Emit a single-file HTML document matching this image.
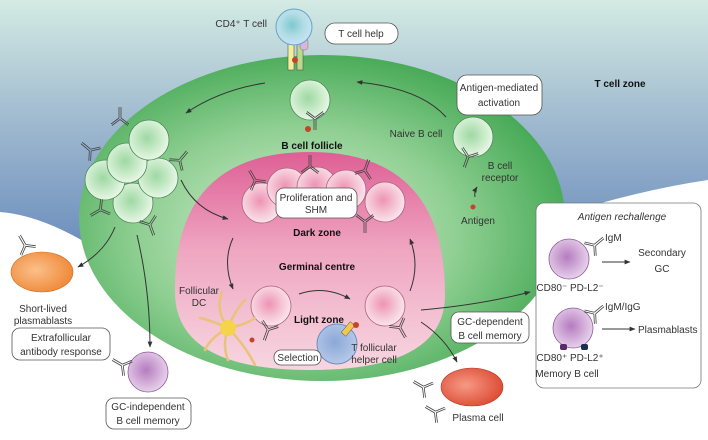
<!DOCTYPE html>
<html><head><meta charset="utf-8"><style>
html,body{margin:0;padding:0;background:#fff}
svg{display:block}
text{font-family:"Liberation Sans",sans-serif;font-size:10px;fill:#333}
.b{font-weight:bold;fill:#111}
</style></head><body>
<svg width="708" height="440" viewBox="0 0 708 440" xmlns="http://www.w3.org/2000/svg">
<defs>
<linearGradient id="sky" x1="0" y1="0" x2="0" y2="1"><stop offset="0" stop-color="#d3ebe3"/><stop offset="0.5" stop-color="#9fb9cf"/><stop offset="1" stop-color="#6d8fbd"/></linearGradient>
<radialGradient id="grn" cx="0.45" cy="0.55" r="0.6"><stop offset="0" stop-color="#d6eed4"/><stop offset="0.55" stop-color="#8fcf92"/><stop offset="1" stop-color="#3ea54f"/></radialGradient>
<linearGradient id="pnk" x1="0" y1="0" x2="0" y2="1"><stop offset="0" stop-color="#de5f95"/><stop offset="0.45" stop-color="#efa6c1"/><stop offset="1" stop-color="#f7d6e0"/></linearGradient>
<radialGradient id="gc" cx="0.45" cy="0.45" r="0.55"><stop offset="0" stop-color="#9fd8a4"/><stop offset="0.6" stop-color="#c9ebc9"/><stop offset="1" stop-color="#e8f6e6"/></radialGradient>
<radialGradient id="pc" cx="0.45" cy="0.45" r="0.55"><stop offset="0" stop-color="#ee93b3"/><stop offset="0.6" stop-color="#f5c6d6"/><stop offset="1" stop-color="#fae4ea"/></radialGradient>
<radialGradient id="vc" cx="0.45" cy="0.45" r="0.55"><stop offset="0" stop-color="#b57cc0"/><stop offset="0.6" stop-color="#d3aed9"/><stop offset="1" stop-color="#e6d0ea"/></radialGradient>
<radialGradient id="bc" cx="0.45" cy="0.45" r="0.55"><stop offset="0" stop-color="#7fc8cf"/><stop offset="0.6" stop-color="#b3dde6"/><stop offset="1" stop-color="#c5e3f0"/></radialGradient>
<radialGradient id="bc2" cx="0.45" cy="0.45" r="0.55"><stop offset="0" stop-color="#8aa8d8"/><stop offset="1" stop-color="#b5c8e8"/></radialGradient>
<radialGradient id="oc" cx="0.4" cy="0.45" r="0.6"><stop offset="0" stop-color="#fbc08a"/><stop offset="1" stop-color="#ef8a3a"/></radialGradient>
<radialGradient id="rc" cx="0.4" cy="0.45" r="0.6"><stop offset="0" stop-color="#f59a85"/><stop offset="1" stop-color="#de4d36"/></radialGradient>
<marker id="ar" viewBox="0 0 10 10" refX="9" refY="5" markerWidth="6" markerHeight="6" orient="auto"><path d="M0,1 L10,5 L0,9 z" fill="#333"/></marker>
<g id="ab" stroke="#444" stroke-width="0.8" fill="none"><path d="M-1,0 L-1,-11 M1,0 L1,-11 M-1,0 L-9,6 M0,1.5 L-8,7.5 M1,0 L9,6 M0,1.5 L8,7.5"/></g>
</defs>
<rect width="708" height="440" fill="#fff"/>
<path d="M0,0 H708 V180 Q640,190 560,215 L90,245 Q40,215 0,212 Z" fill="url(#sky)"/>
<ellipse cx="322" cy="218" rx="243" ry="163" fill="url(#grn)"/>
<path d="M175,295 Q172,152 310,152 Q445,152 445,295 Q445,370 310,370 Q178,370 175,295Z" fill="url(#pnk)"/>
<rect x="536" y="203" width="165" height="185" rx="8" fill="#fff" stroke="#777" stroke-width="0.8"/>
<g stroke="#333" stroke-width="1" fill="none" marker-end="url(#ar)">
<path d="M265,83 Q220,90 186,113"/>
<path d="M446,117 Q420,88 357,82"/>
<path d="M181,180 Q195,210 228,219"/>
<path d="M233,238 Q222,262 233,289"/>
<path d="M299,294 Q325,285 350,299"/>
<path d="M410,291 Q420,265 410,239"/>
<path d="M115,227 Q105,252 78,267"/>
<path d="M137,235 Q150,290 150,347"/>
<path d="M421,310 Q480,305 530,292"/>
<path d="M421,322 Q445,338 457,362"/>
<path d="M475,197 Q474,192 477,187"/>
<path d="M602,262 H630"/><path d="M602,329 H635"/>
</g>
<rect x="288" y="42" width="6" height="28" fill="#f2ef9a" stroke="#555" stroke-width="0.6"/>
<rect x="297" y="42" width="6" height="28" fill="#b9d98d" stroke="#555" stroke-width="0.6"/>
<rect x="300" y="38" width="8" height="12" rx="3" fill="#d7b7d8" stroke="#777" stroke-width="0.5"/>
<circle cx="294" cy="27" r="18" fill="url(#bc)" stroke="#6aa3c6"/>
<circle cx="295" cy="60" r="3" fill="#c4432a"/>
<circle cx="310" cy="100" r="20" fill="url(#gc)" stroke="#4a8a55" stroke-width="0.8"/>
<use href="#ab" x="315" y="119" transform="rotate(180 315 119)"/>
<circle cx="308" cy="129" r="3" fill="#c4432a"/>
<circle cx="473" cy="137" r="20" fill="url(#gc)" stroke="#4a8a55" stroke-width="0.8"/>
<use href="#ab" x="468" y="157" transform="rotate(200 468 157)"/>
<circle cx="473" cy="207" r="2.5" fill="#c4432a"/>
<g fill="url(#gc)" stroke="#4a8a55" stroke-width="0.8">
<circle cx="133" cy="203" r="20"/><circle cx="158" cy="178" r="20"/><circle cx="105" cy="180" r="20"/><circle cx="127" cy="163" r="20"/><circle cx="149" cy="140" r="20"/>
</g>
<use href="#ab" x="120" y="118"/><use href="#ab" x="180" y="160" transform="rotate(40 180 160)"/><use href="#ab" x="100" y="210" transform="rotate(-120 100 210)"/><use href="#ab" x="150" y="225" transform="rotate(160 150 225)"/><use href="#ab" x="90" y="150" transform="rotate(-50 90 150)"/>
<g fill="url(#pc)" stroke="#b0607c" stroke-width="0.8">
<circle cx="262" cy="203" r="20"/><circle cx="287" cy="188" r="20"/><circle cx="317" cy="187" r="20"/><circle cx="346" cy="190" r="20"/><circle cx="385" cy="202" r="20"/>
<circle cx="271" cy="306" r="20"/><circle cx="385" cy="306" r="20"/>
</g>
<use href="#ab" x="255" y="180" transform="rotate(-30 255 180)"/><use href="#ab" x="310" y="166"/><use href="#ab" x="365" y="170" transform="rotate(20 365 170)"/><use href="#ab" x="365" y="222" transform="rotate(180 365 222)"/><use href="#ab" x="268" y="330" transform="rotate(200 268 330)"/><use href="#ab" x="400" y="328" transform="rotate(150 400 328)"/>
<g stroke="#e8c37a" stroke-width="2.5" fill="none" stroke-linecap="round">
<path d="M228,328 Q215,310 222,292 M228,328 Q210,320 200,318 M228,328 Q210,338 205,350 M228,328 Q222,345 228,360 M228,328 Q245,345 255,365 M228,328 Q245,325 255,318 M228,328 Q235,310 245,300"/>
</g>
<circle cx="228" cy="328" r="8" fill="#f5d34a"/>
<circle cx="252" cy="340" r="2.5" fill="#c4432a"/>
<circle cx="337" cy="344" r="20" fill="url(#bc2)" stroke="#6a8fc0"/>
<rect x="345" y="322" width="6" height="14" fill="#f2c94c" stroke="#555" stroke-width="0.5" transform="rotate(40 348 329)"/>
<circle cx="356" cy="325" r="3" fill="#c4432a"/>
<ellipse cx="42" cy="272" rx="31" ry="20" fill="url(#oc)" stroke="#c96a20" stroke-width="0.6"/>
<circle cx="148" cy="372" r="20" fill="url(#vc)" stroke="#8e5a9c" stroke-width="0.8"/>
<ellipse cx="472" cy="387" rx="31" ry="19" fill="url(#rc)" stroke="#b03a25" stroke-width="0.6"/>
<circle cx="569" cy="259" r="20" fill="url(#vc)" stroke="#8e5a9c" stroke-width="0.8"/>
<circle cx="573" cy="328" r="20" fill="url(#vc)" stroke="#8e5a9c" stroke-width="0.8"/>
<rect x="560" y="344" width="7" height="6" rx="2" fill="#5b2a6a"/><rect x="581" y="344" width="7" height="6" rx="2" fill="#1e2e50"/>
<use href="#ab" x="25" y="245" transform="rotate(-30 25 245)"/><use href="#ab" x="122" y="365" transform="rotate(-60 122 365)"/><use href="#ab" x="423" y="387" transform="rotate(-60 423 387)"/><use href="#ab" x="435" y="412" transform="rotate(-60 435 412)"/>
<use href="#ab" x="595" y="245" transform="rotate(50 595 245)"/><use href="#ab" x="595" y="313" transform="rotate(50 595 313)"/>
<g fill="#fff" stroke="#555" stroke-width="0.8">
<rect x="325" y="23" width="73" height="21" rx="10"/>
<rect x="457" y="75" width="85" height="40" rx="10"/>
<rect x="276" y="188" width="81" height="30" rx="8"/>
<rect x="274" y="350" width="47" height="15" rx="7"/>
<rect x="451" y="312" width="78" height="31" rx="8"/>
<rect x="12" y="328" width="98" height="32" rx="8"/>
<rect x="106" y="398" width="85" height="31" rx="8"/>
</g>
<text x="267" y="27" text-anchor="end">CD4⁺ T cell</text>
<text x="361" y="37" text-anchor="middle">T cell help</text>
<text x="620" y="87" class="b" text-anchor="middle">T cell zone</text>
<text x="499" y="91" text-anchor="middle">Antigen-mediated</text>
<text x="499" y="106" text-anchor="middle">activation</text>
<text x="416" y="137" text-anchor="middle">Naive B cell</text>
<text x="312" y="149" class="b" text-anchor="middle">B cell follicle</text>
<text x="500" y="169" text-anchor="middle">B cell</text>
<text x="500" y="181" text-anchor="middle">receptor</text>
<text x="478" y="224" text-anchor="middle">Antigen</text>
<text x="316" y="201" text-anchor="middle">Proliferation and</text>
<text x="316" y="213" text-anchor="middle">SHM</text>
<text x="317" y="236" class="b" text-anchor="middle">Dark zone</text>
<text x="317" y="270" class="b" text-anchor="middle">Germinal centre</text>
<text x="199" y="294" text-anchor="middle">Follicular</text>
<text x="199" y="306" text-anchor="middle">DC</text>
<text x="319" y="323" class="b" text-anchor="middle">Light zone</text>
<text x="298" y="361" text-anchor="middle">Selection</text>
<text x="374" y="351" text-anchor="middle">T follicular</text>
<text x="374" y="363" text-anchor="middle">helper cell</text>
<text x="490" y="325" text-anchor="middle">GC-dependent</text>
<text x="490" y="339" text-anchor="middle">B cell memory</text>
<text x="43" y="312" text-anchor="middle">Short-lived</text>
<text x="43" y="324" text-anchor="middle">plasmablasts</text>
<text x="61" y="341" text-anchor="middle">Extrafollicular</text>
<text x="61" y="355" text-anchor="middle">antibody response</text>
<text x="148" y="410" text-anchor="middle">GC-independent</text>
<text x="148" y="424" text-anchor="middle">B cell memory</text>
<text x="478" y="421" text-anchor="middle">Plasma cell</text>
<text x="622" y="220" text-anchor="middle" font-style="italic">Antigen rechallenge</text>
<text x="605" y="241">IgM</text>
<text x="662" y="256" text-anchor="middle">Secondary</text>
<text x="662" y="272" text-anchor="middle">GC</text>
<text x="570" y="291" text-anchor="middle" font-size="9">CD80⁻ PD-L2⁻</text>
<text x="605" y="310">IgM/IgG</text>
<text x="638" y="333">Plasmablasts</text>
<text x="570" y="361" text-anchor="middle" font-size="9">CD80⁺ PD-L2⁺</text>
<text x="567" y="377" text-anchor="middle">Memory B cell</text>
</svg>
</body></html>
